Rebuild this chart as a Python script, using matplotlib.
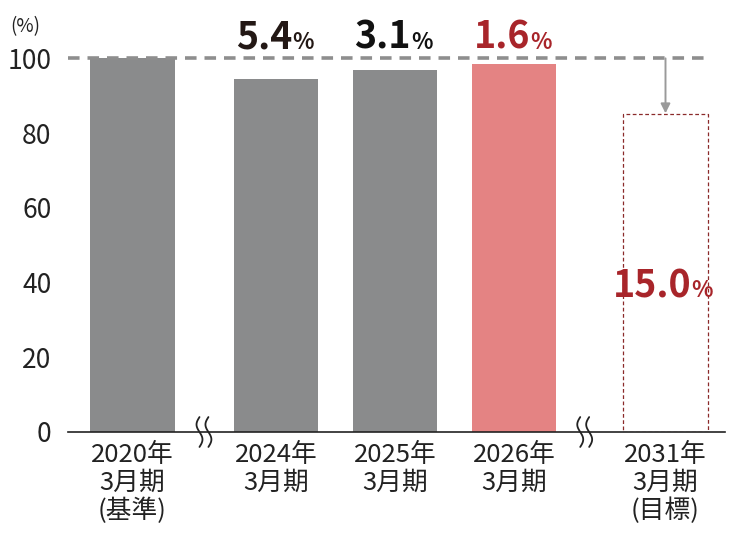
import numpy as np
import matplotlib.pyplot as plt
from matplotlib.patches import Rectangle

plt.rcParams['font.family'] = ['Noto Sans CJK JP', 'DejaVu Sans']

categories = ['2020年\n3月期\n(基準)', '2024年\n3月期', '2025年\n3月期', '2026年\n3月期', '2031年\n3月期\n(目標)']
values = [100, 94.6, 96.9, 98.4]
target = 85.0
reductions = ['5.4', '3.1', '1.6']
target_reduction = '15.0'
yticks = [0, 20, 40, 60, 80, 100]

# bar positions (gaps where the axis is broken)
xpos = np.array([0, 1.206, 2.206, 3.206, 4.479])
width = 0.706
bar_colors = ['#8a8b8c', '#8a8b8c', '#8a8b8c', '#e48383']
label_colors = ['#231815', '#111111', '#a8252a']
red = '#a8252a'

fig = plt.figure(figsize=(7.45, 5.36), dpi=100)
ax = fig.add_axes([68 / 745, 1 - 432 / 536, (725 - 68) / 745, (432 - 21) / 536])
ax.set_xlim(-0.542, 4.979)
ax.set_ylim(0, 110)

ax.bar(xpos[:4], values, width=width, color=bar_colors, zorder=2)
ax.add_patch(Rectangle((xpos[4] - width / 2, 0), width, target, fill=False,
                       edgecolor='#8b2a2a', linestyle=(0, (3, 2)), linewidth=0.9, zorder=2))

# baseline dashed line at 100
ax.plot([-0.542, 4.86], [100, 100], color='#8e8e8e', linewidth=2.6,
        linestyle=(0, (3.2, 2.2)), zorder=3)
ax.annotate('', xy=(xpos[4], target + 0.3), xytext=(xpos[4], 100),
            arrowprops=dict(arrowstyle='-|>', color='#9a9a9a', lw=1.4,
                            mutation_scale=14, shrinkA=0, shrinkB=0))

# reduction labels
for x, r, c in zip(xpos[1:4], reductions, label_colors):
    ax.text(x + 0.135, 102.6, r, ha='right', va='baseline', fontsize=27,
            fontweight='bold', color=c)
    ax.text(x + 0.14, 102.6, '%', ha='left', va='baseline', fontsize=16,
            fontweight='bold', color=c)
ax.text(xpos[4] + 0.215, 36.0, target_reduction, ha='right', va='baseline', fontsize=27,
        fontweight='bold', color=red)
ax.text(xpos[4] + 0.22, 36.0, '%', ha='left', va='baseline', fontsize=16,
        fontweight='bold', color=red)

# axes styling
for s in ['top', 'right', 'left']:
    ax.spines[s].set_visible(False)
ax.spines['bottom'].set_color('#222222')
ax.spines['bottom'].set_linewidth(1.2)
ax.set_yticks(yticks)
ax.set_yticklabels([str(t) for t in yticks], fontsize=19, color='#222222')
ax.tick_params(axis='y', length=0, pad=12)
ax.set_xticks(xpos)
ax.set_xticklabels(categories, fontsize=18.5, color='#222222', linespacing=1.1)
ax.tick_params(axis='x', length=0, pad=7)

fig.text(10 / 745, 1 - 27 / 536, '(%)', fontsize=13.5, color='#222222', va='center')

# axis break marks
t = np.linspace(0, 1, 50)
for bx in [(xpos[0] + xpos[1]) / 2 - 0.04, (xpos[3] + xpos[4]) / 2 - 0.08]:
    for dx in [0, 0.075]:
        ax.plot(bx + dx + 0.025 * np.sin(t * 2 * np.pi), -4.0 + 8.0 * t,
                color='#222222', linewidth=1.3, clip_on=False, zorder=4,
                solid_capstyle='round')

fig.savefig('out.png', dpi=100)
